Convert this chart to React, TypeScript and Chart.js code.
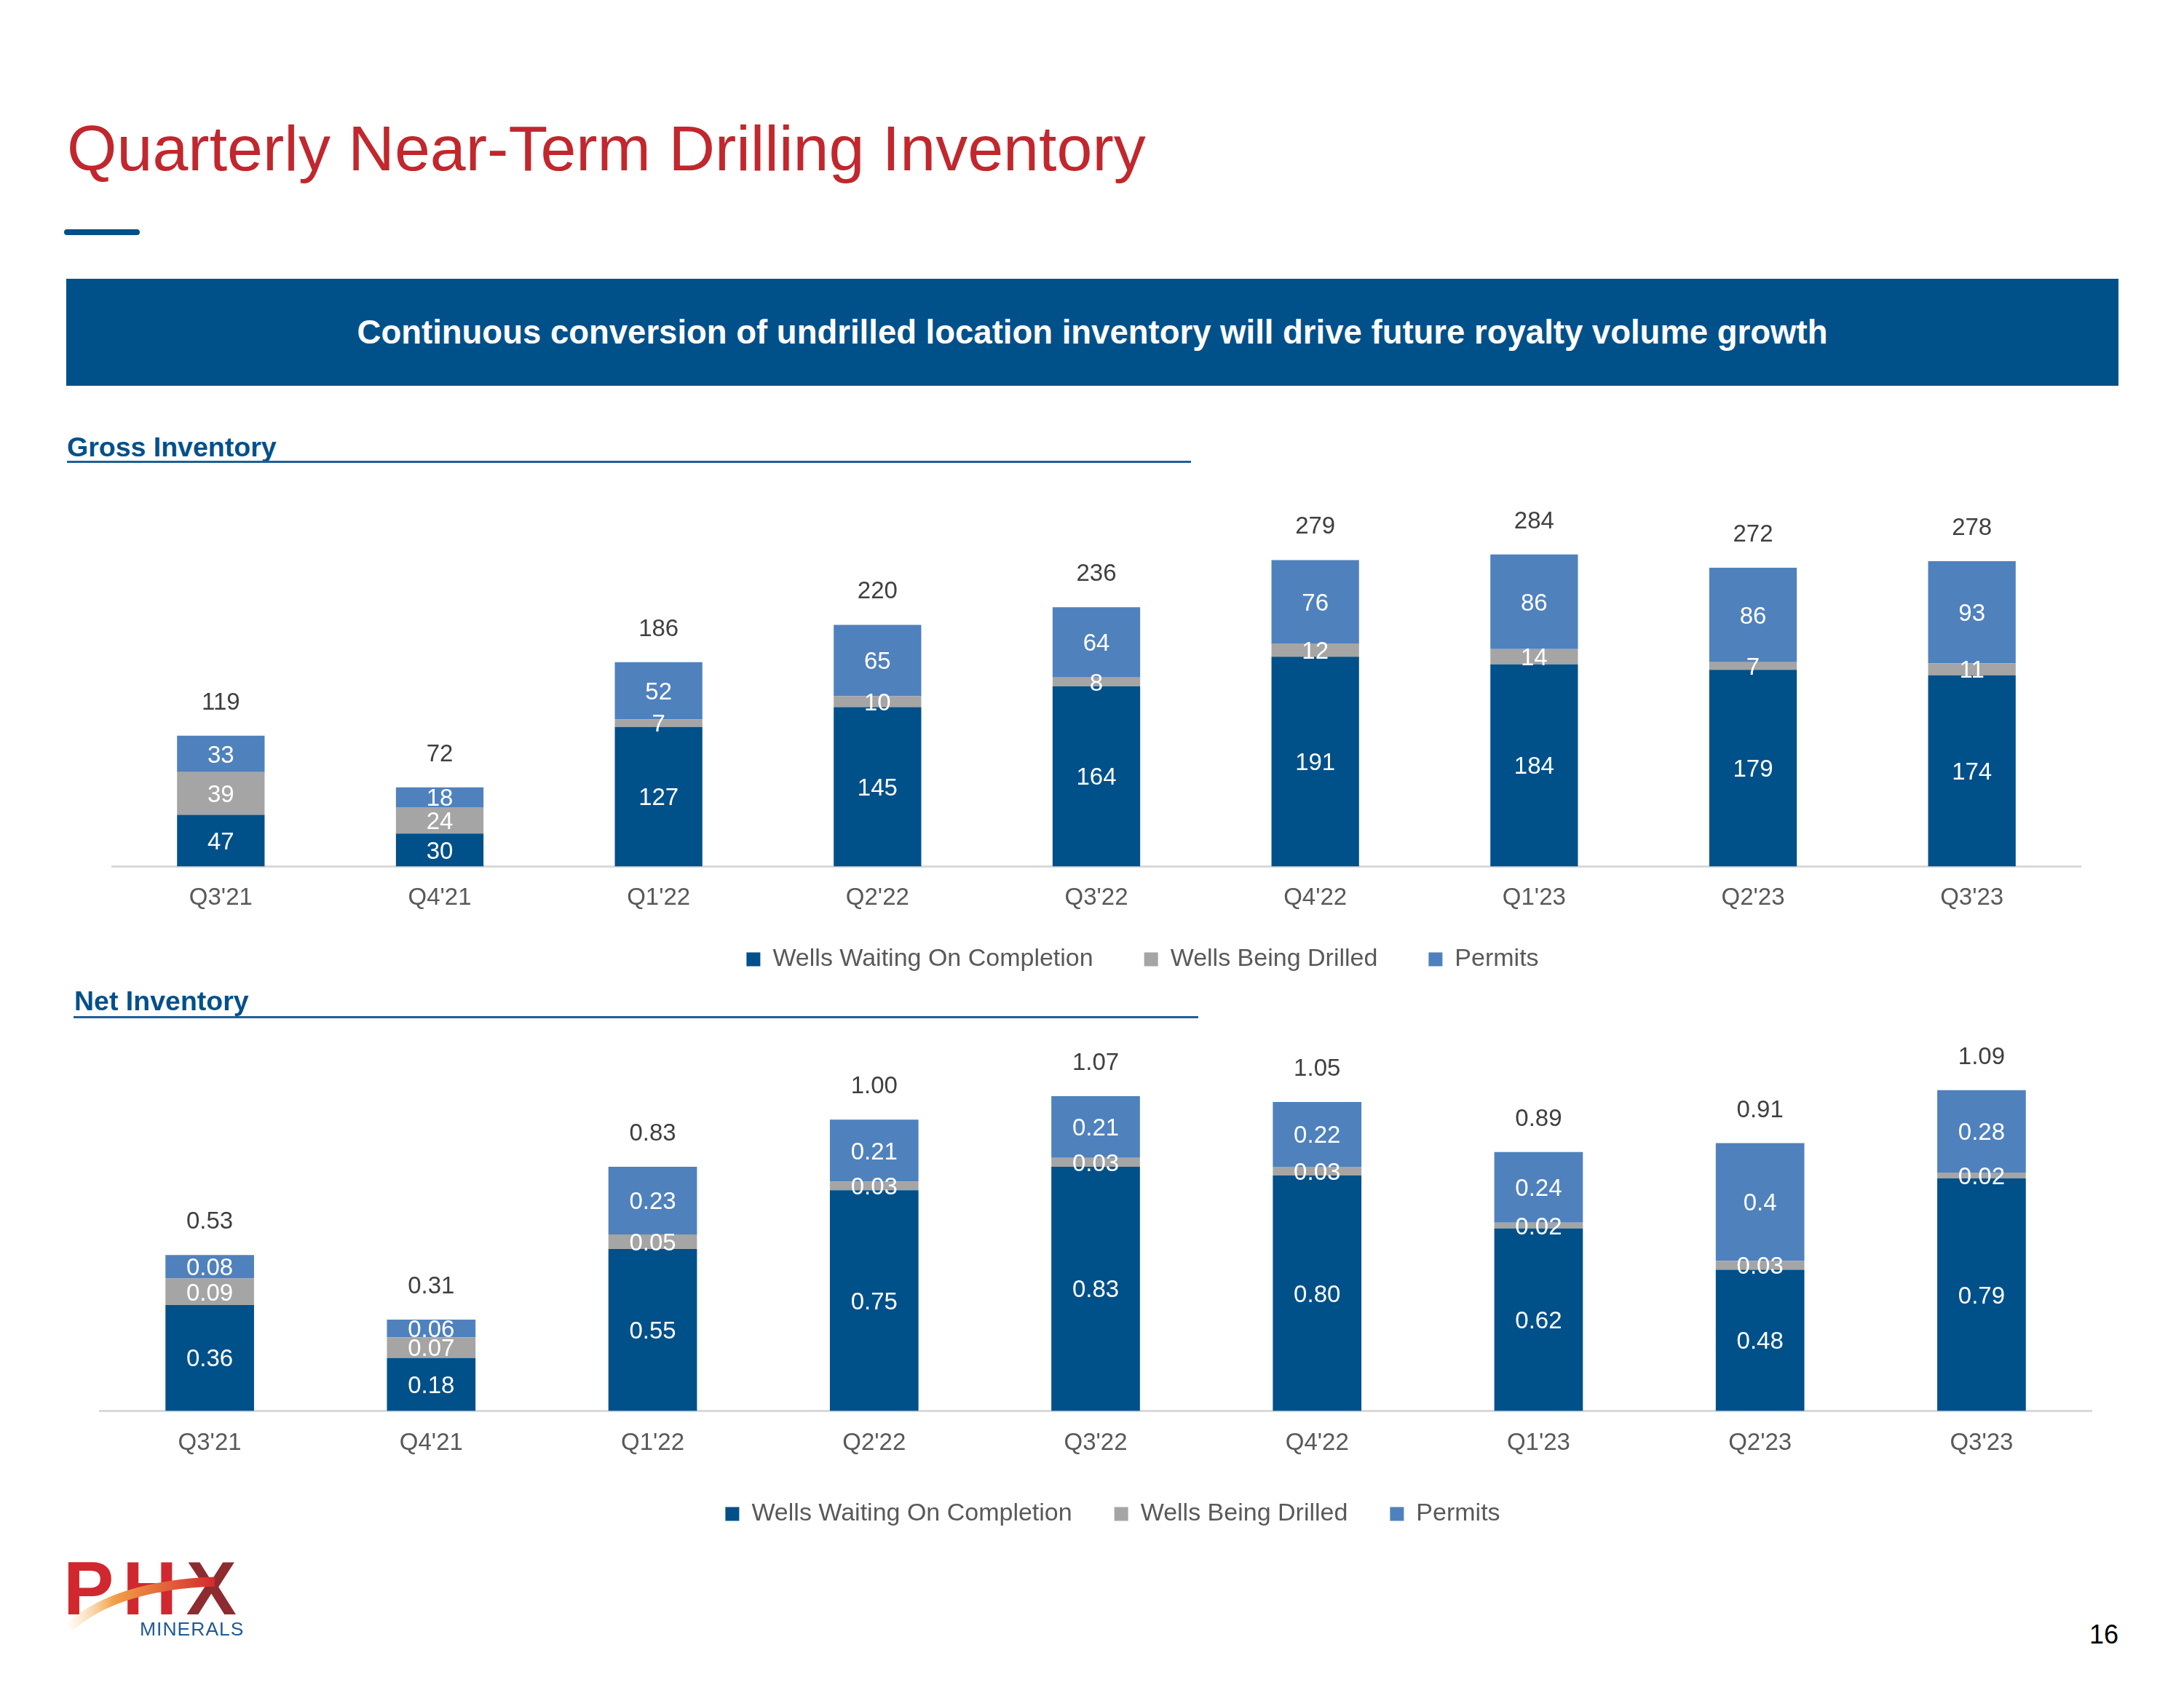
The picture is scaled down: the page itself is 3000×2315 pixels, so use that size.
import React, { useEffect, useRef } from 'react';
import { Chart, registerables } from 'chart.js';

Chart.register(...registerables);

const FONT = '"Liberation Sans", Arial, Helvetica, sans-serif';
Chart.defaults.font.family = FONT;

// ---------- data ----------
const categories = ["Q3'21", "Q4'21", "Q1'22", "Q2'22", "Q3'22", "Q4'22", "Q1'23", "Q2'23", "Q3'23"];
const seriesNames = ['Wells Waiting On Completion', 'Wells Being Drilled', 'Permits'];
const seriesColors = ['#00508A', '#A5A5A5', '#4F81BD'];

const grossWaiting = [47, 30, 127, 145, 164, 191, 184, 179, 174];
const grossDrilling = [39, 24, 7, 10, 8, 12, 14, 7, 11];
const grossPermits = [33, 18, 52, 65, 64, 76, 86, 86, 93];
const grossTotals = [119, 72, 186, 220, 236, 279, 284, 272, 278];

const netWaiting = [0.36, 0.18, 0.55, 0.75, 0.83, 0.8, 0.62, 0.48, 0.79];
const netDrilling = [0.09, 0.07, 0.05, 0.03, 0.03, 0.03, 0.02, 0.03, 0.02];
const netPermits = [0.08, 0.06, 0.23, 0.21, 0.21, 0.22, 0.24, 0.4, 0.28];
const netTotals = [0.53, 0.31, 0.83, 1.0, 1.07, 1.05, 0.89, 0.91, 1.09];
// label shown as in the source (one decimal)
const netLabelOverrides: Record<string, string> = { '2-7': '0.4' };

// ---------- plugins ----------
function makeLabelPlugin(totals: number[], fmt: (v: number, di: number, i: number) => string, size: number) {
  return {
    id: 'stackLabels',
    afterDatasetsDraw(chart: any) {
      const ctx = chart.ctx;
      ctx.save();
      ctx.font = `${size}px ${FONT}`;
      ctx.textAlign = 'center';
      ctx.textBaseline = 'alphabetic';
      const capOff = size * 0.358;
      chart.data.datasets.forEach((ds: any, di: number) => {
        const meta = chart.getDatasetMeta(di);
        meta.data.forEach((bar: any, i: number) => {
          const p = bar.getProps(['x', 'y', 'base'], true);
          const cy = (p.y + p.base) / 2;
          ctx.fillStyle = '#FFFFFF';
          ctx.fillText(fmt(ds.data[i], di, i), p.x, cy + capOff);
        });
      });
      const last = chart.getDatasetMeta(chart.data.datasets.length - 1);
      last.data.forEach((bar: any, i: number) => {
        const p = bar.getProps(['x', 'y'], true);
        ctx.fillStyle = '#404040';
        ctx.fillText(fmt(totals[i], -1, i), p.x, p.y - 36);
      });
      ctx.restore();
    },
  };
}

function makeLegendPlacer(cx: number, cy: number, pad: number, fontSize: number) {
  return {
    id: 'legendPlacer',
    afterLayout(chart: any) {
      const lg = chart.legend;
      if (!lg) return;
      const w = lg.right - lg.left;
      const h = lg.bottom - lg.top;
      lg.left = cx - w / 2;
      lg.right = lg.left + w;
      lg.top = cy - pad - fontSize / 2;
      lg.bottom = lg.top + h;
    },
  };
}

type Spec = {
  series: number[][];
  totals: number[];
  fmt: (v: number, di: number, i: number) => string;
  yMax: number;
  padTop: number;
  tickPad: number;
  legendPad: number;
  legendCx: number;
  legendCy: number;
};

const LEGEND_FONT = 34;

function buildConfig(s: Spec): any {
  return {
    type: 'bar',
    data: {
      labels: categories,
      datasets: s.series.map((d, k) => ({
        label: seriesNames[k],
        data: d,
        backgroundColor: seriesColors[k],
        borderWidth: 0,
        categoryPercentage: 1,
        barPercentage: 0.4,
      })),
    },
    options: {
      responsive: false,
      animation: false,
      devicePixelRatio: 1,
      events: [],
      layout: { padding: { top: s.padTop, left: 0, right: 0, bottom: 0 } },
      scales: {
        x: {
          stacked: true,
          grid: { display: false, drawTicks: false },
          border: { display: true, color: '#D9D9D9', width: 3 },
          ticks: {
            color: '#595959',
            font: { size: 33, family: FONT },
            padding: s.tickPad,
            maxRotation: 0,
            autoSkip: false,
          },
        },
        y: { stacked: true, display: false, min: 0, max: s.yMax },
      },
      plugins: {
        tooltip: { enabled: false },
        legend: {
          display: true,
          position: 'bottom',
          labels: {
            boxWidth: 19,
            boxHeight: 19,
            padding: s.legendPad,
            color: '#595959',
            font: { size: LEGEND_FONT, family: FONT },
          },
        },
      },
    },
    plugins: [
      makeLabelPlugin(s.totals, s.fmt, 33),
      makeLegendPlacer(s.legendCx, s.legendCy, s.legendPad, LEGEND_FONT),
    ],
  };
}

function ChartBox(props: { left: number; top: number; width: number; height: number; spec: Spec }) {
  const ref = useRef<HTMLCanvasElement>(null);
  useEffect(() => {
    const chart = new Chart(ref.current as HTMLCanvasElement, buildConfig(props.spec));
    return () => chart.destroy();
  }, []);
  return (
    <canvas
      ref={ref}
      width={props.width}
      height={props.height}
      style={{ position: 'absolute', left: props.left, top: props.top, width: props.width, height: props.height, display: 'block' }}
    />
  );
}

// text positioned by baseline
function Txt(props: { x: number; baseline: number; size: number; color: string; bold?: boolean; children: any; style?: any }) {
  return (
    <div
      style={{
        position: 'absolute',
        left: props.x,
        top: props.baseline - props.size * 0.8465,
        fontSize: props.size,
        lineHeight: `${props.size}px`,
        color: props.color,
        fontWeight: props.bold ? 700 : 400,
        whiteSpace: 'nowrap',
        ...(props.style || {}),
      }}
    >
      {props.children}
    </div>
  );
}

const grossSpec: Spec = {
  series: [grossWaiting, grossDrilling, grossPermits],
  totals: grossTotals,
  fmt: (v) => String(v),
  yMax: 325,
  padTop: 60,
  tickPad: 24,
  legendPad: 70,
  legendCx: 1569.5 - 153,
  legendCy: 1318 - 640,
};

const netSpec: Spec = {
  series: [netWaiting, netDrilling, netPermits],
  totals: netTotals,
  fmt: (v, di, i) => netLabelOverrides[`${di}-${i}`] ?? v.toFixed(2),
  yMax: 1.24,
  padTop: 37.2,
  tickPad: 25,
  legendPad: 58,
  legendCx: 1528.5 - 136,
  legendCy: 2080 - 1400,
};

export default function App() {
  return (
    <div
      style={{
        position: 'absolute',
        left: 0,
        top: 0,
        width: 3000,
        height: 2315,
        background: '#FFFFFF',
        overflow: 'hidden',
        fontFamily: FONT,
      }}
    >
      <Txt x={92} baseline={234} size={88} color="#C1272D">Quarterly Near-Term Drilling Inventory</Txt>
      <div style={{ position: 'absolute', left: 88, top: 315, width: 104, height: 8, borderRadius: 4, background: '#00508A' }} />

      <div style={{ position: 'absolute', left: 91, top: 383, width: 2819, height: 147, background: '#00508A' }} />
      <div
        style={{
          position: 'absolute',
          left: 91,
          width: 2819,
          top: 473 - 45.5 * 0.8465,
          fontSize: 45.5,
          lineHeight: '45.5px',
          fontWeight: 700,
          color: '#FFFFFF',
          textAlign: 'center',
          whiteSpace: 'nowrap',
        }}
      >
        Continuous conversion of undrilled location inventory will drive future royalty volume growth
      </div>

      <Txt x={92} baseline={628} size={37.5} color="#00508A" bold>Gross Inventory</Txt>
      <div style={{ position: 'absolute', left: 92, top: 633, width: 1544, height: 3, background: '#1F5F99' }} />

      <ChartBox left={153} top={640} width={2706} height={752} spec={grossSpec} />

      <Txt x={102} baseline={1388.5} size={37.5} color="#00508A" bold>Net Inventory</Txt>
      <div style={{ position: 'absolute', left: 101, top: 1396, width: 1545, height: 3, background: '#1F5F99' }} />

      <ChartBox left={136} top={1400} width={2738} height={730} spec={netSpec} />

      {/* logo */}
      <Txt x={87} baseline={2218} size={104} color="#D0282E" bold style={{ letterSpacing: 12 }}>
        <span>PH</span>
        <span style={{ color: '#8E2B30' }}>X</span>
      </Txt>
      <svg style={{ position: 'absolute', left: 0, top: 2080 }} width={500} height={235}>
        <defs>
          <linearGradient id="sw2" x1="95" y1="0" x2="300" y2="0" gradientUnits="userSpaceOnUse">
            <stop offset="0" stopColor="#F9D29A" stopOpacity="0.1" />
            <stop offset="0.3" stopColor="#F2A046" />
            <stop offset="1" stopColor="#D3262E" />
          </linearGradient>
        </defs>
        <path d="M 96 155 Q 160 98 295 93" stroke="url(#sw2)" strokeWidth={13} fill="none" strokeLinecap="butt" />
      </svg>
      <Txt x={192} baseline={2247} size={26.5} color="#1F5A96" style={{ letterSpacing: 1 }}>MINERALS</Txt>

      <div
        style={{
          position: 'absolute',
          right: 3000 - 2910,
          top: 2258 - 36 * 0.8465,
          fontSize: 36,
          lineHeight: '36px',
          color: '#000000',
        }}
      >
        16
      </div>
    </div>
  );
}
